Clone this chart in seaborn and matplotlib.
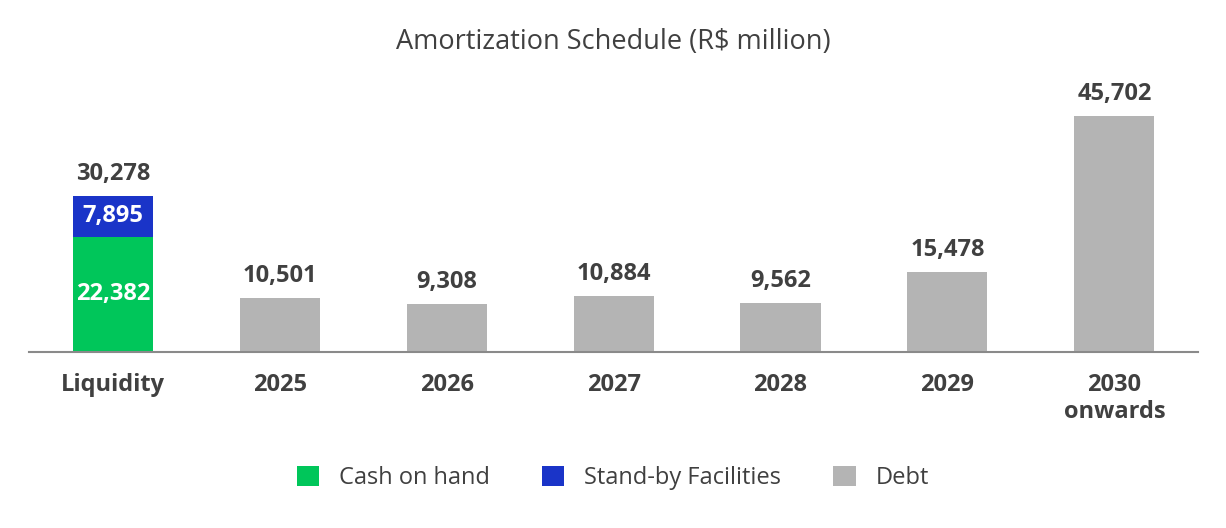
import matplotlib
matplotlib.use("Agg")
import matplotlib.pyplot as plt
import seaborn as sns
import pandas as pd
from matplotlib.patches import Patch

categories = ["Liquidity", "2025", "2026", "2027", "2028", "2029", "2030\nonwards"]
cash_on_hand = [22382]
standby = [7895]
liquidity_total = [30278]
debt_categories = ["2025", "2026", "2027", "2028", "2029", "2030\nonwards"]
debt_values = [10501, 9308, 10884, 9562, 15478, 45702]

GREEN = "#00C65A"
BLUE = "#1A34C8"
GRAY = "#B4B4B4"
TEXT = "#404040"

sns.set_theme(style="white")
plt.rcParams["font.family"] = ["Open Sans", "DejaVu Sans"]

fig = plt.figure(figsize=(12.26, 5.28), dpi=100)
ax = fig.add_axes([0.024, 0.3333, 0.953, 0.515])

liq_df = pd.DataFrame({"cat": ["Liquidity"], "total": liquidity_total, "cash": cash_on_hand})
debt_df = pd.DataFrame({"cat": debt_categories, "val": debt_values})

common = dict(order=categories, saturation=1, width=0.48, ax=ax, errorbar=None, linewidth=0)
sns.barplot(data=liq_df, x="cat", y="total", color=BLUE, **common)
sns.barplot(data=liq_df, x="cat", y="cash", color=GREEN, **common)
sns.barplot(data=debt_df, x="cat", y="val", color=GRAY, **common)

ax.set_xlim(-0.5, 6.5)
ax.set_ylim(0, 52700)
ax.set_xlabel("")
ax.set_ylabel("")
ax.set_yticks([])
for s in ["top", "left", "right"]:
    ax.spines[s].set_visible(False)
ax.spines["bottom"].set_color("#8a8a8a")
ax.spines["bottom"].set_linewidth(1.5)
ax.tick_params(axis="x", length=0, pad=15)
for lab in ax.get_xticklabels():
    lab.set_fontweight("bold")
    lab.set_fontsize(17)
    lab.set_color(TEXT)
    lab.set_linespacing(1.15)

def fmt(v):
    return f"{v:,}"

# Liquidity labels
ax.annotate(fmt(liquidity_total[0]), (0, liquidity_total[0]), xytext=(0, 7),
            textcoords="offset points", ha="center", va="bottom",
            fontsize=17, fontweight="bold", color=TEXT)
ax.text(0, cash_on_hand[0] + standby[0] / 2, fmt(standby[0]), ha="center", va="center",
        fontsize=17, fontweight="bold", color="white")
ax.text(0, cash_on_hand[0] / 2, fmt(cash_on_hand[0]), ha="center", va="center",
        fontsize=17, fontweight="bold", color="white")

for c, v in zip(debt_categories, debt_values):
    i = categories.index(c)
    ax.annotate(fmt(v), (i, v), xytext=(0, 7), textcoords="offset points",
                ha="center", va="bottom", fontsize=17, fontweight="bold", color=TEXT)

fig.text(0.5, 0.92, "Amortization Schedule (R$ million)", ha="center", va="center",
         fontsize=19.5, color=TEXT)

handles = [Patch(facecolor=GREEN, edgecolor="none", label="Cash on hand"),
           Patch(facecolor=BLUE, edgecolor="none", label="Stand-by Facilities"),
           Patch(facecolor=GRAY, edgecolor="none", label="Debt")]
leg = fig.legend(handles=handles, loc="center", bbox_to_anchor=(0.5, 0.095), ncol=3,
                 frameon=False, fontsize=17, handlelength=0.95, handleheight=0.95,
                 columnspacing=2.2, handletextpad=0.85)
for t in leg.get_texts():
    t.set_color(TEXT)

fig.savefig("out.png", dpi=100, facecolor="white")
